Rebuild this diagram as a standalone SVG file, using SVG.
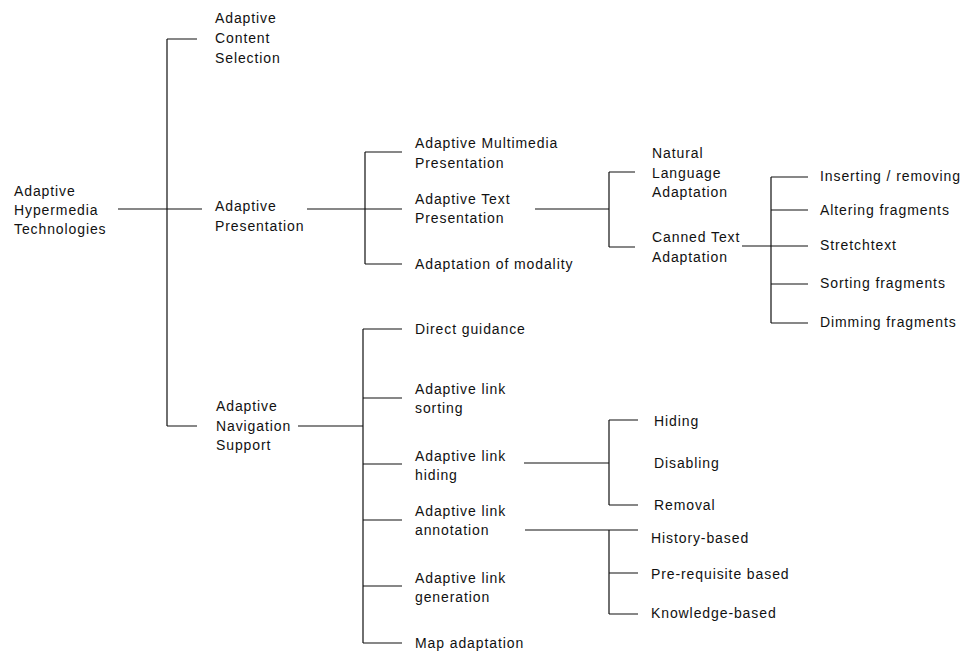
<svg xmlns="http://www.w3.org/2000/svg" width="964" height="651" viewBox="0 0 964 651">
<style>
text{font-family:"Liberation Sans",Arial,sans-serif;font-size:14px;letter-spacing:0.9px;fill:#111}
.c path{fill:none;stroke:#111;stroke-width:1.2}
</style>
<rect width="964" height="651" fill="#fff"/>
<g class="c" id="connectors">
<path d="M118 209H202M167 39V426M167 39H197M167 426H197"/>
<path d="M307 209H365M365 152V264M365 152H402M365 209H402M365 264H402"/>
<path d="M535 209H609M609 172V247M609 172H635M609 247H635"/>
<path d="M742 246H771M771 177V323M771 177H808M771 210H808M771 246H808M771 284H808M771 323H808"/>
<path d="M298 426H363M363 329V643M363 329H402M363 398H402M363 464H402M363 520H402M363 586H402M363 643H402"/>
<path d="M524 463H609M609 420V505M609 420H638M609 505H638"/>
<path d="M525 530H638M609 530V614M609 573H638M609 614H638"/>
</g>
<g id="root"><text x="14" y="196">Adaptive</text><text x="14" y="215">Hypermedia</text><text x="14" y="234">Technologies</text></g>
<g id="acs"><text x="215" y="23">Adaptive</text><text x="215" y="43">Content</text><text x="215" y="63">Selection</text></g>
<g id="ap"><text x="215" y="211">Adaptive</text><text x="215" y="231">Presentation</text></g>
<g id="ans"><text x="216" y="411">Adaptive</text><text x="216" y="431">Navigation</text><text x="216" y="450">Support</text></g>
<g id="amp"><text x="415" y="148">Adaptive Multimedia</text><text x="415" y="168">Presentation</text></g>
<g id="atp"><text x="415" y="204">Adaptive Text</text><text x="415" y="223">Presentation</text></g>
<g id="aom"><text x="415" y="269">Adaptation of modality</text></g>
<g id="nla"><text x="652" y="158">Natural</text><text x="652" y="178">Language</text><text x="652" y="197">Adaptation</text></g>
<g id="cta"><text x="652" y="242">Canned Text</text><text x="652" y="262">Adaptation</text></g>
<g id="ins"><text x="820" y="181">Inserting / removing</text></g>
<g id="alt"><text x="820" y="215">Altering fragments</text></g>
<g id="str"><text x="820" y="250">Stretchtext</text></g>
<g id="sor"><text x="820" y="288">Sorting fragments</text></g>
<g id="dim"><text x="820" y="327">Dimming fragments</text></g>
<g id="dg"><text x="415" y="334">Direct guidance</text></g>
<g id="als"><text x="415" y="394">Adaptive link</text><text x="415" y="413">sorting</text></g>
<g id="alh"><text x="415" y="461">Adaptive link</text><text x="415" y="480">hiding</text></g>
<g id="ala"><text x="415" y="516">Adaptive link</text><text x="415" y="535">annotation</text></g>
<g id="alg"><text x="415" y="583">Adaptive link</text><text x="415" y="602">generation</text></g>
<g id="ma"><text x="415" y="648">Map adaptation</text></g>
<g id="hid"><text x="654" y="426">Hiding</text></g>
<g id="dis"><text x="654" y="468">Disabling</text></g>
<g id="rem"><text x="654" y="510">Removal</text></g>
<g id="his"><text x="651" y="543">History-based</text></g>
<g id="pre"><text x="651" y="579">Pre-requisite based</text></g>
<g id="kno"><text x="651" y="618">Knowledge-based</text></g>
</svg>
